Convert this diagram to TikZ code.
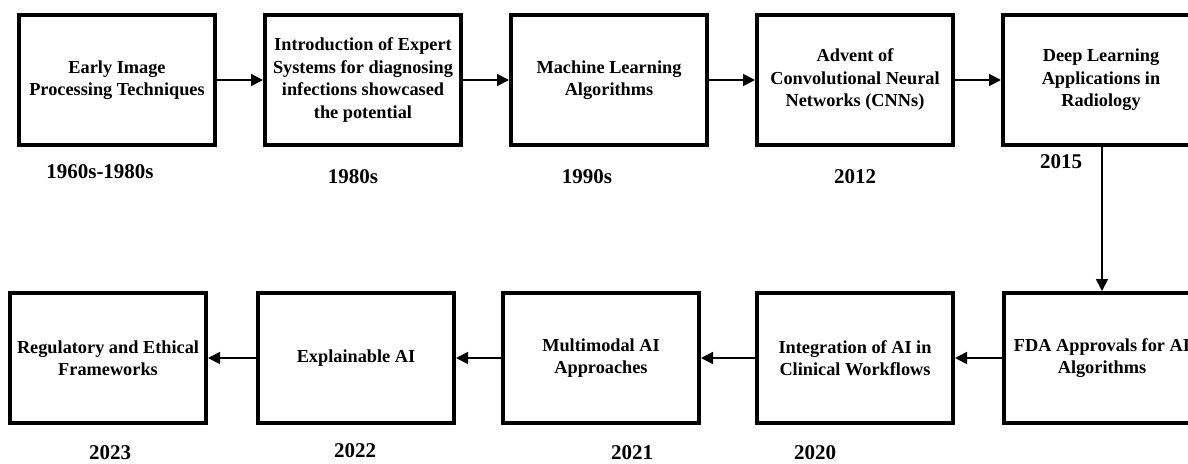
\documentclass[tikz,border=0pt]{standalone}
\usepackage{fontspec}
\setmainfont{Liberation Serif}
\usetikzlibrary{arrows.meta}
\begin{document}
\begin{tikzpicture}[x=1pt,y=-1pt,
  stagebox/.style={draw=black,line width=4pt,minimum width=196pt,minimum height=130pt,
    align=center,inner sep=0pt,font=\fontsize{18.3}{22.5}\selectfont\bfseries},
  yearlbl/.style={font=\fontsize{21}{24}\selectfont\bfseries,inner sep=0pt},
  conn/.style={line width=1.8pt,-{Triangle[length=12pt,width=12pt]}}]
\useasboundingbox (0,0) rectangle (1188,463);
\clip (0,0) rectangle (1188,463);
% top row
\node[stagebox] (b1) at (117,80) {Early Image\\Processing Techniques};
\node[stagebox] (b2) at (363,80) {Introduction of Expert\\Systems for diagnosing\\infections showcased\\the potential};
\node[stagebox] (b3) at (609,80) {Machine Learning\\Algorithms};
\node[stagebox] (b4) at (855,80) {Advent of\\Convolutional Neural\\Networks (CNNs)};
\node[stagebox] (b5) at (1101,80) {Deep Learning\\Applications in\\Radiology};
% bottom row
\node[stagebox] (c1) at (1102,358) {FDA Approvals for AI\\Algorithms};
\node[stagebox] (c2) at (855,358) {Integration of AI in\\Clinical Workflows};
\node[stagebox] (c3) at (601,358) {Multimodal AI\\Approaches};
\node[stagebox] (c4) at (356,358) {Explainable AI};
\node[stagebox] (c5) at (108,358) {Regulatory and Ethical\\Frameworks};
% years
\node[yearlbl] (y1) at (100,172) {1960s-1980s};
\node[yearlbl] (y2) at (353,177) {1980s};
\node[yearlbl] (y3) at (587,177) {1990s};
\node[yearlbl] (y4) at (855,177) {2012};
\node[yearlbl] (y5) at (1061,162) {2015};
\node[yearlbl] (z1) at (815,453) {2020};
\node[yearlbl] (z2) at (632,453) {2021};
\node[yearlbl] (z3) at (355,451) {2022};
\node[yearlbl] (z4) at (110,453) {2023};
% connectors
\draw[conn] (b1) -- (b2);
\draw[conn] (b2) -- (b3);
\draw[conn] (b3) -- (b4);
\draw[conn] (b4) -- (b5);
\draw[conn] (b5.south -| c1.north) -- (c1.north);
\draw[conn] (c1) -- (c2);
\draw[conn] (c2) -- (c3);
\draw[conn] (c3) -- (c4);
\draw[conn] (c4) -- (c5);
\end{tikzpicture}
\end{document}
